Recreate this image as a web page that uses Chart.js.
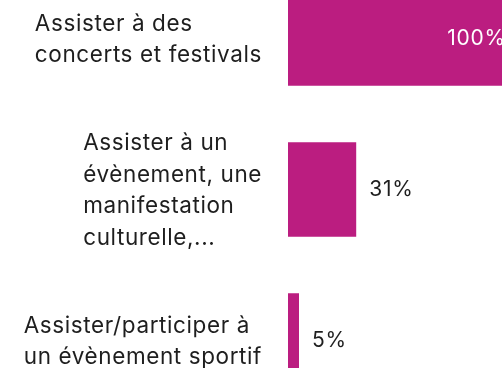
<!DOCTYPE html>
<html lang="fr">
<head>
<meta charset="utf-8">
<script src="https://cdn.jsdelivr.net/npm/chart.js@4"></script>
<style>
  html, body { margin: 0; padding: 0; background: #fff; overflow: hidden; }
  #wrap { position: absolute; left: 0; top: -37px; width: 508px; height: 453px; }
</style>
</head>
<body>
<div id="wrap"><canvas id="myChart"></canvas></div>
<script>
const categories = [
  ["Assister à des", "concerts et festivals"],
  ["Assister à un", "évènement, une", "manifestation", "culturelle,..."],
  ["Assister/participer à", "un évènement sportif"],
];
const values = [100, 31, 5];
const valueLabels = ["100%", "31%", "5%"];

const barColor = "#BB1D80";
const textColor = "#1e1e1e";
const fontFamily = "Inter, 'Liberation Sans', sans-serif";

// category labels: each block left-aligned, block right edge just before the bars
const categoryLabels = {
  id: "categoryLabels",
  afterDraw(chart) {
    const ctx = chart.ctx;
    const y = chart.scales.y;
    const lineHeight = 31.5;
    ctx.save();
    ctx.font = "22.5px " + fontFamily;
    ctx.letterSpacing = "0.6px";
    ctx.fillStyle = textColor;
    ctx.textAlign = "left";
    ctx.textBaseline = "alphabetic";
    categories.forEach((lines, i) => {
      const cy = y.getPixelForValue(i);
      const w = Math.max(...lines.map((l) => ctx.measureText(l).width));
      const left = chart.chartArea.left - 26 - w;
      lines.forEach((line, k) => {
        const by = cy + (k - (lines.length - 1) / 2) * lineHeight + 8;
        ctx.fillText(line, left, by);
      });
    });
    ctx.restore();
  },
};

// percentage labels: inside the end of the full bar, outside the others
const valueTags = {
  id: "valueTags",
  afterDatasetsDraw(chart) {
    const ctx = chart.ctx;
    const meta = chart.getDatasetMeta(0);
    ctx.save();
    ctx.font = "21px " + fontFamily;
    ctx.letterSpacing = "0.8px";
    ctx.textBaseline = "middle";
    meta.data.forEach((bar, i) => {
      if (values[i] >= 100) {
        ctx.fillStyle = "#ffffff";
        ctx.textAlign = "right";
        ctx.fillText(valueLabels[i], bar.x - 2, bar.y);
      } else {
        ctx.fillStyle = textColor;
        ctx.textAlign = "left";
        ctx.fillText(valueLabels[i], bar.x + 13, bar.y);
      }
    });
    ctx.restore();
  },
};

new Chart(document.getElementById("myChart"), {
  type: "bar",
  data: {
    labels: categories,
    datasets: [
      {
        data: values,
        backgroundColor: barColor,
        borderWidth: 0,
        categoryPercentage: 1,
        barPercentage: 0.625,
      },
    ],
  },
  options: {
    indexAxis: "y",
    responsive: true,
    maintainAspectRatio: false,
    animation: false,
    layout: { padding: 0 },
    plugins: {
      legend: { display: false },
      tooltip: { enabled: false },
    },
    scales: {
      x: {
        display: false,
        min: 0,
        max: 100,
      },
      y: {
        grid: { display: false },
        border: { display: false },
        ticks: { display: false },
        afterFit(scale) {
          scale.width = 288;
        },
      },
    },
  },
  plugins: [categoryLabels, valueTags],
});
</script>
</body>
</html>
